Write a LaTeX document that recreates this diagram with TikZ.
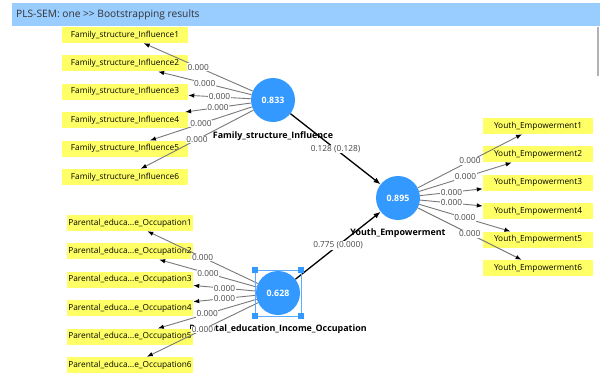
\documentclass[tikz,border=0pt]{standalone}
\usepackage{fontspec}
\setmainfont{Open Sans}
\usetikzlibrary{arrows.meta}

\definecolor{latblue}{RGB}{51,153,255}
\definecolor{indyellow}{RGB}{255,255,102}
\definecolor{titleblue}{RGB}{153,204,255}
\definecolor{loadgray}{RGB}{120,120,120}
\definecolor{valgray}{RGB}{70,70,70}

\begin{document}
\begin{tikzpicture}[x=1pt,y=-1pt,
  latent/.style={circle,fill=latblue,minimum size=44pt,inner sep=0pt,text=white,
    font=\fontsize{8.8}{10}\selectfont\bfseries},
  latlabel/.style={font=\fontsize{8.9}{10}\selectfont\bfseries,inner sep=0pt},
  indicator/.style={fill=indyellow,minimum height=16pt,inner sep=0pt,
    font=\fontsize{8.3}{10}\selectfont},
  loading/.style={draw=loadgray,line width=0.9pt,-{Latex[length=6pt,width=4.5pt,color=black]}},
  structural/.style={draw=black,line width=1.3pt,-{Latex[length=7pt,width=5.5pt]}},
  valuelab/.style={fill=white,inner sep=0.6pt,text=valgray,font=\fontsize{8.3}{9}\selectfont}]

\useasboundingbox (0,0) rectangle (606,378);

% title bar
\fill[titleblue] (12,3) rectangle (600,26);
\node[anchor=west,inner sep=0pt,text=black!80,font=\fontsize{10.2}{12}\selectfont] (title) at (16,15) {PLS-SEM: one >{}> Bootstrapping results};
\fill[black!30] (597,27) rectangle (599,76);

% latent labels (behind everything)
\node[latlabel] (FSI-lab) at (273,136) {Family\_structure\_Influence};
\node[latlabel] (YE-lab) at (398,233) {Youth\_Empowerment};
\node[latlabel] (PEIO-lab) at (278,329) {Parental\_education\_Income\_Occupation};

% latent variables
\node[latent] (FSI) at (273,100) {0.833};
\node[latent] (YE) at (398,198) {0.895};
\node[latent] (PEIO) at (278,293) {0.628};

% indicators
\foreach \i in {1,...,6} {
  \node[indicator,minimum width=126pt] (FSI-\i) at (125,{35+28.4*(\i-1)}) {Family\_structure\_Influence\i};
  \node[indicator,minimum width=110pt] (YE-\i) at (538,{126+28.4*(\i-1)}) {Youth\_Empowerment\i};
  \node[indicator,minimum width=126pt] (PEIO-\i) at (130,{223+28.4*(\i-1)}) {Parental\_educa...e\_Occupation\i};
}

% outer loadings
\foreach \i in {1,...,6} {
  \draw[loading] (FSI) -- (FSI-\i) node[midway,valuelab] {0.000};
  \draw[loading] (YE) -- (YE-\i) node[midway,valuelab] {0.000};
  \draw[loading] (PEIO) -- (PEIO-\i) node[midway,valuelab] {0.000};
}

% inner model
\draw[structural] (FSI) -- (YE) node[midway,valuelab] {0.128 (0.128)};
\draw[structural] (PEIO) -- (YE) node[midway,valuelab] {0.775 (0.000)};

% selection frame
\draw[latblue!80,line width=0.6pt] (PEIO.center) +(-23,-23) rectangle +(23,23);
\foreach \dx/\dy in {-23/-23,23/-23,-23/23,23/23}
  \fill[latblue] (PEIO.center) ++(\dx,\dy) +(-2.6,-2.6) rectangle +(2.6,2.6);
\end{tikzpicture}
\end{document}
